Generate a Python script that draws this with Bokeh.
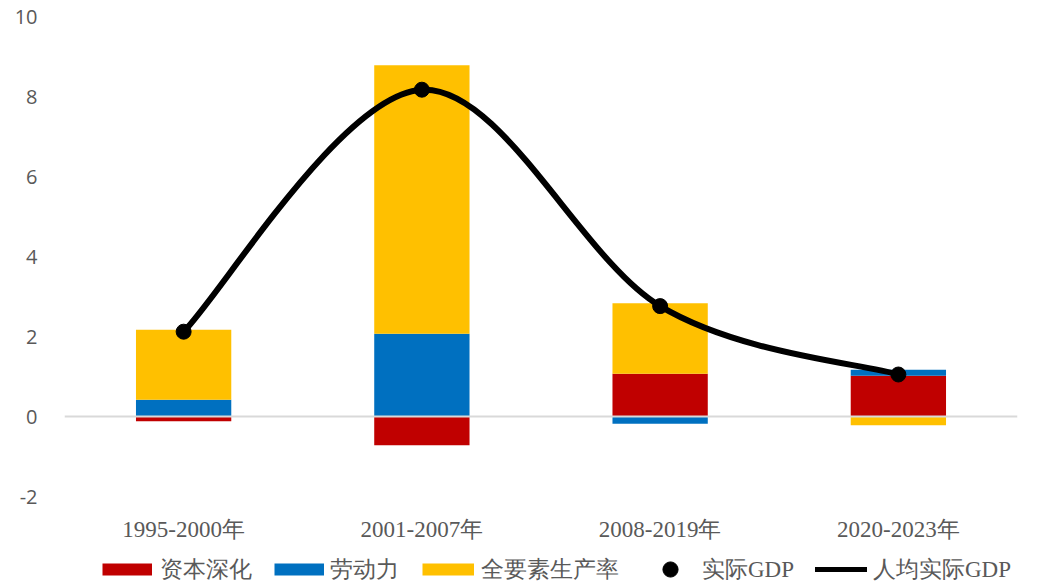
import numpy as np
from bokeh.plotting import figure
from bokeh.models import FactorRange, Range1d, FixedTicker, Span, Legend, LegendItem, ColumnDataSource
from bokeh.embed import file_html
from bokeh.resources import INLINE

# ---- data ----
categories = ["1995-2000年", "2001-2007年", "2008-2019年", "2020-2023年"]
capital_deepening = [-0.12, -0.72, 1.07, 1.02]
labor = [0.42, 2.07, -0.18, 0.15]
tfp = [1.75, 6.71, 1.76, -0.22]
real_gdp = [2.12, 8.17, 2.76, 1.05]
per_capita_real_gdp = [2.12, 8.17, 2.76, 1.05]

series_names = ["资本深化", "劳动力", "全要素生产率"]
series_values = [capital_deepening, labor, tfp]
colors = ["#C00000", "#0070C0", "#FFC000"]
y_ticks = [-2, 0, 2, 4, 6, 8, 10]

GRAY = "#595959"
SERIF = "Liberation Serif"

p = figure(width=1045, height=550,
           x_range=FactorRange(factors=categories, range_padding=0),
           y_range=Range1d(-2, 10),
           output_backend="svg", toolbar_location=None,
           min_border_left=64, min_border_right=28,
           min_border_top=16, min_border_bottom=54)
p.outline_line_color = None
p.xgrid.visible = False
p.ygrid.visible = False

# ---- stacked bars (positive and negative stacks) ----
pos = np.zeros(len(categories))
neg = np.zeros(len(categories))
for name, vals, col in zip(series_names, series_values, colors):
    v = np.array(vals, dtype=float)
    bottom = np.where(v >= 0, pos, neg)
    top = bottom + v
    pos = np.where(v >= 0, top, pos)
    neg = np.where(v < 0, top, neg)
    src = ColumnDataSource(dict(x=categories, bottom=bottom, top=top))
    p.vbar(x="x", width=0.4, bottom="bottom", top="top", source=src,
           fill_color=col, line_color=None)

# zero line
p.add_layout(Span(location=0, dimension="width", line_color="#D9D9D9", line_width=2))

# ---- smoothed line (Catmull-Rom -> cubic bezier) ----
xs = np.arange(len(categories)) + 0.5
ys = np.array(per_capita_real_gdp, dtype=float)
n = len(xs)
tx = np.zeros(n); ty = np.zeros(n)
for i in range(n):
    a = max(i - 1, 0); b = min(i + 1, n - 1)
    tx[i] = (xs[b] - xs[a]) / 2.0
    ty[i] = (ys[b] - ys[a]) / 2.0
bz = ColumnDataSource(dict(
    x0=xs[:-1], y0=ys[:-1], x1=xs[1:], y1=ys[1:],
    cx0=xs[:-1] + tx[:-1] / 3.0, cy0=ys[:-1] + ty[:-1] / 3.0,
    cx1=xs[1:] - tx[1:] / 3.0, cy1=ys[1:] - ty[1:] / 3.0))
p.bezier(x0="x0", y0="y0", x1="x1", y1="y1", cx0="cx0", cy0="cy0",
         cx1="cx1", cy1="cy1", source=bz, line_color="black",
         line_width=6, line_cap="round")

p.scatter(x=list(xs), y=real_gdp, size=15, fill_color="black", line_color="black")

# ---- axes ----
p.yaxis.ticker = FixedTicker(ticks=y_ticks)
p.yaxis.major_label_overrides = {t: str(t) for t in y_ticks}
p.yaxis.axis_line_color = None
p.yaxis.major_tick_line_color = None
p.yaxis.minor_tick_line_color = None
p.yaxis.major_label_standoff = 21
p.yaxis.major_label_text_font = "Open Sans"
p.yaxis.major_label_text_font_size = "20px"
p.yaxis.major_label_text_color = GRAY

p.xaxis.axis_line_color = None
p.xaxis.major_tick_line_color = None
p.xaxis.minor_tick_line_color = None
p.xaxis.major_label_standoff = 14
p.xaxis.major_label_text_font = SERIF
p.xaxis.major_label_text_font_size = "23px"
p.xaxis.major_label_text_color = GRAY

# ---- legend strip (separate small figure so nothing is clipped) ----
lg = figure(width=1045, height=33, x_range=Range1d(0, 1), y_range=Range1d(0, 1),
            output_backend="svg", toolbar_location=None,
            x_axis_type=None, y_axis_type=None,
            min_border=0, min_border_left=0, min_border_right=0,
            min_border_top=0, min_border_bottom=0)
lg.outline_line_color = None
lg.xgrid.visible = False
lg.ygrid.visible = False

# legend key proxies (kept outside the visible range)
OUT = [-5, -4]
proxies = []
for col in colors:
    proxies.append(lg.line(x=OUT, y=OUT, line_color=col, line_width=12, line_cap="butt"))
dot_proxy = lg.scatter(x=OUT, y=OUT, size=15, fill_color="black", line_color="black")
line_proxy = lg.line(x=OUT, y=OUT, line_color="black", line_width=5, line_cap="round")

GH = 38
CENTER_FROM_BOTTOM = 14

def add_leg(label, r, lx, gw, standoff):
    leg = Legend(items=[LegendItem(label=label, renderers=[r])],
                 location=(lx, CENTER_FROM_BOTTOM - GH // 2),
                 orientation="horizontal", glyph_width=gw, glyph_height=GH,
                 label_height=GH, label_standoff=standoff,
                 label_text_font=SERIF, label_text_font_size="23px",
                 label_text_color=GRAY, padding=0, margin=0, spacing=0,
                 border_line_color=None, background_fill_alpha=0)
    lg.add_layout(leg)

add_leg(series_names[0], proxies[0], 102, 50, 8)
add_leg(series_names[1], proxies[1], 274, 50, 6)
add_leg(series_names[2], proxies[2], 422, 52, 7)
add_leg("实际GDP", dot_proxy, 651, 38, 13)
add_leg("人均实际GDP", line_proxy, 815, 52, 6)

open("out.html", "w").write(file_html([p, lg], INLINE))
